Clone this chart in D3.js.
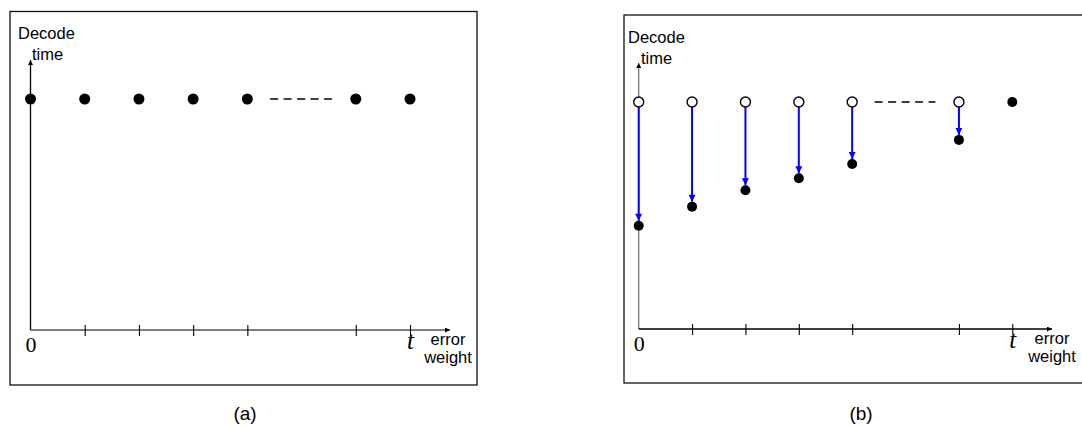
<!DOCTYPE html>
<html>
<head>
<meta charset="utf-8">
<script src="https://cdn.jsdelivr.net/npm/d3@7"></script>
<style>
    body { margin: 0; background: #fff; }
    svg { display: block; }
</style>
</head>
<body>
<div id="wrapper"></div>
<script>
// 1. Data

// positions along the error-weight axis (5 is skipped: drawn as "- - - -")
const weightSteps = [0, 1, 2, 3, 4, 6, 7];
const tickLabels = ["0", "", "", "", "", "", "t"];
const gapExtent = [4.42, 5.56];

// (a) decode time is the same for every error weight
const decodeTimeA = [1, 1, 1, 1, 1, 1, 1];

// (b) time before (open circles) and after (filled dots)
const decodeTimeBefore = [1, 1, 1, 1, 1, 1];
const decodeTimeAfter = [0.455, 0.539, 0.611, 0.664, 0.727, 0.833, 1];

// 2. Dimensions

const dimensions = { width: 1082, height: 426 };

const panels = [
    {
        name: "(a)",
        box: { x: 10, y: 11.5, w: 467, h: 373.5 },
        origin: { x: 30.5, y: 330 },
        lastX: 410, topY: 99, axisEndX: 450, axisTopY: 60,
        yAxisColor: "#000", xAxisColor: "#555",
        decode: { x: 18, y: 39 }, time: { x: 32, y: 60 },
        captionX: 245,
        dotRadius: 5.5
    },
    {
        name: "(b)",
        box: { x: 624, y: 15, w: 467, h: 368 },
        origin: { x: 638.7, y: 329 },
        lastX: 1012.3, topY: 102, axisEndX: 1052, axisTopY: 63,
        yAxisColor: "#777", xAxisColor: "#000",
        decode: { x: 628, y: 43 }, time: { x: 641, y: 64 },
        captionX: 861,
        dotRadius: 5
    }
];

const sans = "'Liberation Sans', Arial, sans-serif";
const serif = "'Liberation Serif', 'Times New Roman', serif";

// 3. Draw canvas

const wrapper = d3.select("#wrapper")
    .append("svg")
    .attr("width", dimensions.width)
    .attr("height", dimensions.height);

const defs = wrapper.append("defs");

defs.append("marker")
    .attr("id", "axis-arrow")
    .attr("viewBox", "0 0 10 10")
    .attr("refX", 10)
    .attr("refY", 5)
    .attr("markerUnits", "userSpaceOnUse")
    .attr("markerWidth", 7)
    .attr("markerHeight", 5)
    .attr("orient", "auto")
    .append("path")
    .attr("d", "M0,0 L10,5 L0,10 Z")
    .attr("fill", "#000");

defs.append("marker")
    .attr("id", "drop-arrow")
    .attr("viewBox", "0 0 10 10")
    .attr("refX", 10)
    .attr("refY", 5)
    .attr("markerUnits", "userSpaceOnUse")
    .attr("markerWidth", 9)
    .attr("markerHeight", 7)
    .attr("orient", "auto")
    .append("path")
    .attr("d", "M0,0 L10,5 L0,10 Z")
    .attr("fill", "#0000ff");

panels.forEach((p, i) => {
    const g = wrapper.append("g");

    // 4. Scales
    const xScale = d3.scaleLinear()
        .domain([0, 7])
        .range([p.origin.x, p.lastX]);

    const yScale = d3.scaleLinear()
        .domain([0, 1])
        .range([p.origin.y, p.topY]);

    // frame
    g.append("rect")
        .attr("x", p.box.x)
        .attr("y", p.box.y)
        .attr("width", p.box.w)
        .attr("height", p.box.h)
        .attr("fill", "none")
        .attr("stroke", "#111")
        .attr("stroke-width", 1.3);

    // 6. Peripherals (drawn first so the marks sit on top)
    g.append("line")
        .attr("x1", p.origin.x).attr("x2", p.origin.x)
        .attr("y1", p.origin.y).attr("y2", p.axisTopY)
        .attr("stroke", p.yAxisColor)
        .attr("stroke-width", 1.3)
        .attr("marker-end", "url(#axis-arrow)");

    g.append("line")
        .attr("x1", p.origin.x).attr("x2", p.axisEndX)
        .attr("y1", p.origin.y).attr("y2", p.origin.y)
        .attr("stroke", p.xAxisColor)
        .attr("stroke-width", 1.3)
        .attr("marker-end", "url(#axis-arrow)");

    const xAxisGenerator = d3.axisBottom(xScale)
        .tickValues(weightSteps)
        .tickSize(6)
        .tickPadding(9)
        .tickFormat((d, j) => tickLabels[j]);

    const xAxis = g.append("g")
        .attr("transform", `translate(0, ${p.origin.y})`)
        .call(xAxisGenerator);

    xAxis.select(".domain").remove();
    xAxis.selectAll(".tick line")
        .attr("y1", -5)
        .attr("y2", 6)
        .attr("stroke", "#000")
        .attr("stroke-width", 1.1);
    xAxis.selectAll(".tick").filter(d => d === 0).select("line").remove();
    xAxis.selectAll(".tick text")
        .attr("y", d => d === 7 ? 19 : 22)
        .attr("dy", null)
        .attr("fill", "#000")
        .style("font-family", serif)
        .style("font-size", d => d === 7 ? "25px" : "22px")
        .style("font-style", d => d === 7 ? "italic" : "normal");

    const axisTitle = g.append("text")
        .attr("text-anchor", "middle")
        .style("font-family", sans)
        .style("font-size", "16.5px")
        .attr("fill", "#000");
    axisTitle.append("tspan")
        .attr("x", p.axisEndX - 2 + 2 * i)
        .attr("y", p.origin.y + 15)
        .text("error");
    axisTitle.append("tspan")
        .attr("x", p.axisEndX - 2 + 2 * i)
        .attr("y", p.origin.y + 33)
        .text("weight");

    g.append("text")
        .attr("x", p.decode.x)
        .attr("y", p.decode.y)
        .style("font-family", sans)
        .style("font-size", "16.5px")
        .text("Decode");

    g.append("text")
        .attr("x", p.time.x)
        .attr("y", p.time.y)
        .style("font-family", sans)
        .style("font-size", "16.5px")
        .text("time");

    g.append("text")
        .attr("x", p.captionX)
        .attr("y", 420)
        .attr("text-anchor", "middle")
        .style("font-family", sans)
        .style("font-size", "19px")
        .text(p.name);

    // dashed "..." between step 4 and the last steps
    g.append("line")
        .attr("x1", xScale(gapExtent[0]))
        .attr("x2", xScale(gapExtent[1]))
        .attr("y1", yScale(1))
        .attr("y2", yScale(1))
        .attr("stroke", "#000")
        .attr("stroke-width", 1.6)
        .attr("stroke-dasharray", "8 5.5");

    // 5. Draw data
    if (i === 0) {
        g.selectAll("circle.dot")
            .data(decodeTimeA)
            .join("circle")
            .attr("class", "dot")
            .attr("cx", (d, j) => xScale(weightSteps[j]))
            .attr("cy", d => yScale(d))
            .attr("r", p.dotRadius)
            .attr("fill", "#000");
    } else {
        const r = p.dotRadius;

        g.selectAll("line.drop")
            .data(decodeTimeBefore)
            .join("line")
            .attr("class", "drop")
            .attr("x1", (d, j) => xScale(weightSteps[j]))
            .attr("x2", (d, j) => xScale(weightSteps[j]))
            .attr("y1", d => yScale(d) + r)
            .attr("y2", (d, j) => yScale(decodeTimeAfter[j]) - r)
            .attr("stroke", "#0000ff")
            .attr("stroke-width", 2)
            .attr("marker-end", "url(#drop-arrow)");

        g.selectAll("circle.before")
            .data(decodeTimeBefore)
            .join("circle")
            .attr("class", "before")
            .attr("cx", (d, j) => xScale(weightSteps[j]))
            .attr("cy", d => yScale(d))
            .attr("r", r)
            .attr("fill", "#fff")
            .attr("stroke", "#000")
            .attr("stroke-width", 1.4);

        g.selectAll("circle.after")
            .data(decodeTimeAfter)
            .join("circle")
            .attr("class", "after")
            .attr("cx", (d, j) => xScale(weightSteps[j]))
            .attr("cy", d => yScale(d))
            .attr("r", r)
            .attr("fill", "#000");
    }
});
</script>
</body>
</html>
